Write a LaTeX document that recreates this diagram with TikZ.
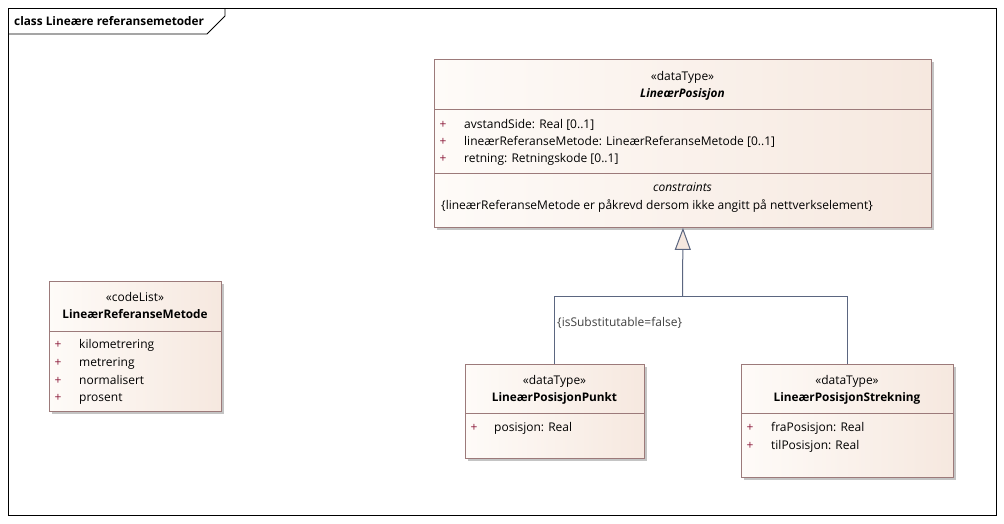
\documentclass[tikz,border=0pt]{standalone}
\usepackage{fontspec}
\setmainfont{Open Sans}
\usetikzlibrary{arrows.meta,shadows}
\definecolor{bord}{HTML}{9C7A7A}
\definecolor{fillA}{HTML}{FEFBF8}
\definecolor{fillB}{HTML}{F6E8DF}
\definecolor{plusc}{HTML}{8B1A3A}
\definecolor{conn}{HTML}{5B6680}
\definecolor{shad}{HTML}{C4C4C4}
\begin{document}
\begin{tikzpicture}[x=1pt,y=-1pt,
  classbox/.style={draw=bord, line width=0.9pt, left color=fillA, right color=fillB,
    rectangle, inner sep=0pt, anchor=north west,
    drop shadow={shadow xshift=3pt,shadow yshift=-3pt,fill=shad,opacity=1}},
  txt/.style={font=\fontsize{12}{14}\selectfont, inner sep=0pt, text=black, yshift=-1.5pt},
  stereo/.style={txt, anchor=mid},
  cname/.style={txt, anchor=mid, font=\fontsize{11.8}{14}\selectfont\bfseries},
  attr/.style={txt, anchor=mid west},
  plus/.style={txt, anchor=mid, text=plusc},
  divider/.style={draw=bord, line width=0.9pt},
  conline/.style={draw=conn, line width=1pt}
]
\useasboundingbox (0,0) rectangle (1004,523);
\fill[white] (0,0) rectangle (1004,523);
% frame
\draw[black, line width=0.8pt] (8,8) rectangle (996,515);
\draw[black, line width=0.8pt] (8,34) -- (207,34) -- (225,16) -- (225,8);
\node[txt, anchor=mid west, font=\fontsize{11.8}{14}\selectfont\bfseries] (title) at (14,21) {class Lineære referansemetoder};

% LineærPosisjon
\node[classbox, minimum width=497pt, minimum height=168pt] (parent) at (434,59) {};
\draw[divider] (434,109) -- (931,109);
\draw[divider] (434,173) -- (931,173);
\node[stereo] (p-st) at (682.5,76) {«dataType»};
\node[cname, font=\fontsize{11.8}{14}\selectfont\bfseries\itshape] (p-nm) at (682.5,93) {LineærPosisjon};
\node[plus] (p-p1) at (443,124) {+};
\node[plus] (p-p2) at (443,141) {+};
\node[plus] (p-p3) at (443,158) {+};
\node[attr] (p-a1) at (464,124) {avstandSide: Real [0..1]};
\node[attr] (p-a2) at (464,141) {lineærReferanseMetode: LineærReferanseMetode [0..1]};
\node[attr] (p-a3) at (464,158) {retning: Retningskode [0..1]};
\node[stereo, font=\fontsize{12}{14}\selectfont\itshape] (p-cs) at (682.5,187) {constraints};
\node[attr] (p-c1) at (441,205) {\{lineærReferanseMetode er påkrevd dersom ikke angitt på nettverkselement\}};

% codeList
\node[classbox, minimum width=172pt, minimum height=130pt] (code) at (49,281) {};
\draw[divider] (49,331) -- (221,331);
\node[stereo] (c-st) at (135,297) {«codeList»};
\node[cname] (c-nm) at (135,314) {LineærReferanseMetode};
\node[plus] (c-p1) at (58,344) {+};
\node[plus] (c-p2) at (58,362) {+};
\node[plus] (c-p3) at (58,380) {+};
\node[plus] (c-p4) at (58,397) {+};
\node[attr] (c-a1) at (79,344) {kilometrering};
\node[attr] (c-a2) at (79,362) {metrering};
\node[attr] (c-a3) at (79,380) {normalisert};
\node[attr] (c-a4) at (79,397) {prosent};

% LineærPosisjonPunkt
\node[classbox, minimum width=179pt, minimum height=94pt] (punkt) at (465,364) {};
\draw[divider] (465,413) -- (644,413);
\node[stereo] (k-st) at (554.5,380) {«dataType»};
\node[cname] (k-nm) at (554.5,397) {LineærPosisjonPunkt};
\node[plus] (k-p1) at (474,427) {+};
\node[attr] (k-a1) at (494,427) {posisjon: Real};

% LineærPosisjonStrekning
\node[classbox, minimum width=212pt, minimum height=113pt] (strek) at (741,364) {};
\draw[divider] (741,413) -- (953,413);
\node[stereo] (s-st) at (847,380) {«dataType»};
\node[cname] (s-nm) at (847,397) {LineærPosisjonStrekning};
\node[plus] (s-p1) at (750,427) {+};
\node[plus] (s-p2) at (750,445) {+};
\node[attr] (s-a1) at (771,427) {fraPosisjon: Real};
\node[attr] (s-a2) at (771,445) {tilPosisjon: Real};

% generalization
\coordinate (junc) at (682.5,296);
\draw[conline] (punkt.north) |- (junc);
\draw[conline] (strek.north) |- (junc);
\draw[conline, -{Triangle[open, length=22pt, width=16pt, fill=fillB]}] (junc) -- (parent.south);
\node[txt, anchor=mid west, text=black!75] (lbl) at (557,322) {\{isSubstitutable=false\}};
\end{tikzpicture}
\end{document}
